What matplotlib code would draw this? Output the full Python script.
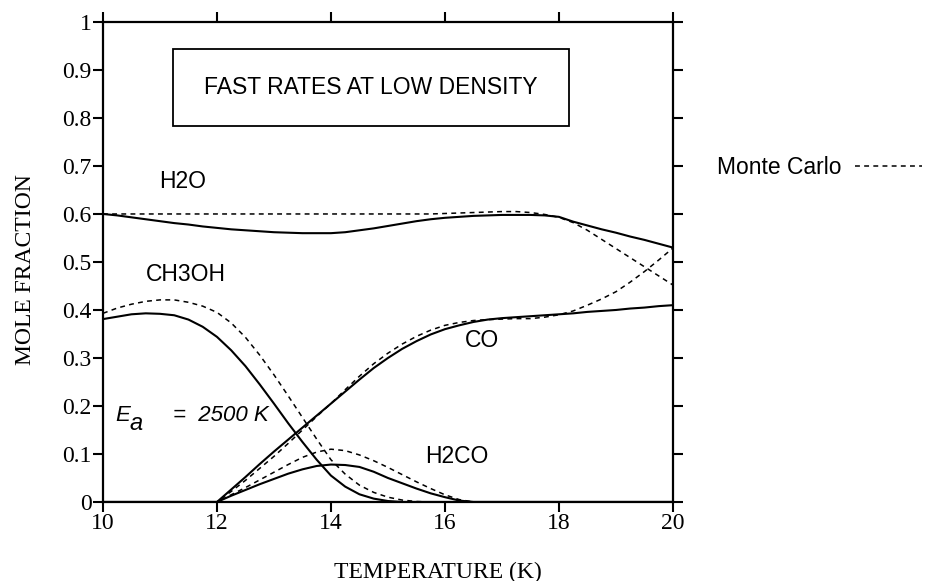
import matplotlib
matplotlib.use('Agg')
import matplotlib.pyplot as plt

# Temperature grid (K), read every 0.25 K
temp = [10, 10.25, 10.5, 10.75, 11, 11.25, 11.5, 11.75, 12, 12.25, 12.5, 12.75,
        13, 13.25, 13.5, 13.75, 14, 14.25, 14.5, 14.75, 15, 15.25, 15.5, 15.75,
        16, 16.25, 16.5, 16.75, 17, 17.25, 17.5, 17.75, 18, 18.25, 18.5, 18.75,
        19, 19.25, 19.5, 19.75, 20]

# rate-equation results (solid)
h2o = [0.600, 0.597, 0.593, 0.589, 0.585, 0.581, 0.578, 0.574, 0.571,
       0.568, 0.566, 0.564, 0.562, 0.561, 0.560, 0.560, 0.560,
       0.562, 0.566, 0.570, 0.575, 0.580, 0.585, 0.589, 0.592,
       0.594, 0.596, 0.597, 0.598, 0.598, 0.598, 0.597, 0.594,
       0.584, 0.576, 0.568, 0.561, 0.553, 0.546, 0.538, 0.530]
co = [0] * 9 + [0.026, 0.052, 0.079, 0.105, 0.130, 0.155, 0.180, 0.205,
                0.230, 0.255, 0.279, 0.300, 0.319, 0.335, 0.349, 0.360,
                0.368, 0.375, 0.380, 0.383, 0.385, 0.387, 0.389, 0.391,
                0.393, 0.396, 0.398, 0.400, 0.403, 0.405, 0.408, 0.410]
ch3oh = [0.381, 0.386, 0.391, 0.393, 0.392, 0.389, 0.380, 0.365, 0.344,
         0.316, 0.283, 0.245, 0.205, 0.164, 0.125, 0.088, 0.055,
         0.032, 0.016, 0.007, 0.002] + [0] * 20
h2co = [0] * 9 + [0.013, 0.025, 0.037, 0.048, 0.059, 0.068, 0.075, 0.078,
                  0.077, 0.073, 0.063, 0.050, 0.039, 0.028, 0.018, 0.010,
                  0.003] + [0] * 15

# Monte Carlo results (dashed)
h2o_mc = [0.600] * 24 + [0.601, 0.602, 0.603, 0.604, 0.605, 0.605, 0.603, 0.599,
                         0.593, 0.582, 0.566, 0.547, 0.528, 0.509, 0.490, 0.471,
                         0.452]
co_mc = [0] * 9 + [0.022, 0.045, 0.070, 0.095, 0.122, 0.150, 0.178, 0.205,
                   0.234, 0.262, 0.288, 0.310, 0.329, 0.345, 0.358, 0.368,
                   0.374, 0.378, 0.380, 0.381, 0.382, 0.382, 0.385, 0.390,
                   0.398, 0.410, 0.423, 0.438, 0.458, 0.480, 0.504, 0.529]
ch3oh_mc = [0.393, 0.404, 0.412, 0.418, 0.421, 0.421, 0.416, 0.408, 0.395,
            0.373, 0.343, 0.306, 0.265, 0.221, 0.176, 0.131, 0.088,
            0.058, 0.035, 0.020, 0.010, 0.004, 0.001] + [0] * 18
h2co_mc = [0] * 9 + [0.015, 0.030, 0.046, 0.062, 0.078, 0.093, 0.104, 0.110,
                     0.107, 0.098, 0.086, 0.072, 0.057, 0.042, 0.028, 0.015,
                     0.005] + [0] * 15

serif = 'Liberation Serif'
sans = 'Liberation Sans'

fig = plt.figure(figsize=(9.31, 5.81), dpi=100)
ax = fig.add_axes([0.1106, 0.136, 0.6122, 0.8262])

for y in [h2o, co, ch3oh, h2co]:
    ax.plot(temp, y, color='black', lw=1.5, solid_joinstyle='round')
mc_lines = []
for y in [h2o_mc, co_mc, ch3oh_mc, h2co_mc]:
    ln, = ax.plot(temp, y, color='black', lw=1.1, dashes=(3.2, 2.8))
    mc_lines.append(ln)

ax.set_xlim(10, 20)
ax.set_ylim(0, 1)
ax.set_xticks([10, 12, 14, 16, 18, 20])
ax.set_yticks([0, 0.1, 0.2, 0.3, 0.4, 0.5, 0.6, 0.7, 0.8, 0.9, 1])
ax.set_yticklabels(['0', '0.1', '0.2', '0.3', '0.4', '0.5', '0.6', '0.7', '0.8', '0.9', '1'])
ax.tick_params(direction='out', length=7, width=1.5, pad=1,
               top=True, right=True, labelsize=17)
for lab in ax.get_xticklabels() + ax.get_yticklabels():
    lab.set_fontfamily(serif)
for sp in ax.spines.values():
    sp.set_linewidth(1.6)

ax.set_xlabel('TEMPERATURE (K)', fontsize=17, fontfamily=serif)
ax.xaxis.set_label_coords(0.588, -0.124)
ax.set_ylabel('MOLE FRACTION', fontsize=17, fontfamily=serif)
ax.yaxis.set_label_coords(-0.117, 0.485)

# title box
ax.text(14.70, 0.863, 'FAST RATES AT LOW DENSITY', fontsize=16.5, fontfamily=sans,
        ha='center', va='center')
ax.add_patch(plt.Rectangle((11.22, 0.783), 6.95, 0.161, fill=False,
                           lw=1.3, ec='black'))

# species labels
ax.text(10.99, 0.668, 'H2O', fontsize=16.5, fontfamily=sans, ha='left', va='center')
ax.text(10.75, 0.473, 'CH3OH', fontsize=16.5, fontfamily=sans, ha='left', va='center')
ax.text(16.65, 0.337, 'CO', fontsize=16.5, fontfamily=sans, ha='center', va='center')
ax.text(15.65, 0.094, 'H2CO', fontsize=16.5, fontfamily=sans, ha='left', va='center')

# activation energy
ax.text(10.21, 0.18, 'E', fontsize=16, fontfamily=sans, style='italic', ha='left', va='center')
ax.text(10.47, 0.163, 'a', fontsize=17, fontfamily=sans, style='italic', ha='left', va='center')
ax.text(11.22, 0.18, '=  2500 K', fontsize=16, fontfamily=sans, style='italic',
        ha='left', va='center')

leg = ax.legend([mc_lines[0]], ['Monte Carlo'], markerfirst=False, loc='center left',
                bbox_to_anchor=(0.770, 1 - 168 / 581), bbox_transform=fig.transFigure,
                frameon=False, handlelength=2.9, handletextpad=0.6, borderpad=0,
                borderaxespad=0, prop={'family': sans, 'size': 16.5})

fig.savefig('out.png', dpi=100)
